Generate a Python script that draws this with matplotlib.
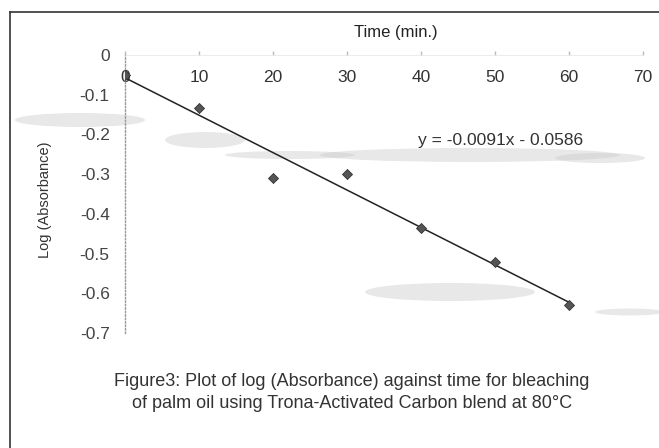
import matplotlib.pyplot as plt
import numpy as np
from matplotlib.lines import Line2D
from matplotlib.patches import Ellipse

plt.rcParams['font.family'] = ['Liberation Sans', 'DejaVu Sans']

# data
time_min = [0, 10, 20, 30, 40, 50, 60]
log_abs = [-0.05, -0.134, -0.31, -0.30, -0.436, -0.52, -0.63]
x_ticks = [0, 10, 20, 30, 40, 50, 60, 70]
y_ticks = [0, -0.1, -0.2, -0.3, -0.4, -0.5, -0.6, -0.7]
equation = "y = -0.0091x - 0.0586"

fig = plt.figure(figsize=(6.59, 4.48), dpi=100)

# faint scanner smudges (page background, not data)
smudges = [  # (cx, cy, w, h) in pixels
    (80, 120, 130, 14), (205, 140, 80, 16), (290, 155, 130, 8),
    (470, 155, 300, 14), (600, 158, 90, 10), (450, 292, 170, 18),
    (630, 312, 70, 7),
]
for cx, cy, w, h in smudges:
    fig.add_artist(Ellipse((cx / 659, 1 - cy / 448), w / 659, h / 448,
                           transform=fig.transFigure, color="#cccccc",
                           alpha=0.45, lw=0, zorder=0))

ax = fig.add_axes([0.1897, 0.2567, 0.786, 0.6205])
ax.patch.set_alpha(0)

# linear trendline through the points
coef = np.polyfit(time_min, log_abs, 1)
fit_x = np.array([time_min[0], time_min[-1]])
ax.plot(fit_x, np.polyval(coef, fit_x), color="#222222", linewidth=1.1, zorder=2)
ax.scatter(time_min, log_abs, marker="D", s=26, color="#555555",
           edgecolor="#333333", linewidth=0.6, zorder=3)

ax.set_xlim(0, 70)
ax.set_ylim(-0.7, 0)
ax.set_xticks(x_ticks)
ax.set_yticks(y_ticks)
ax.set_yticklabels(["0" if v == 0 else f"{v:.1f}" for v in y_ticks])

# excel style: category axis crosses at y = 0 (top of plot)
for side in ("top", "right"):
    ax.spines[side].set_visible(False)
ax.spines["bottom"].set_position(("data", 0))
ax.spines["bottom"].set_color("#e4e4e4")
ax.spines["bottom"].set_linewidth(0.5)
ax.spines["left"].set_color("#999999")
ax.spines["left"].set_linestyle((0, (1, 1.5)))
ax.spines["left"].set_linewidth(1.0)
ax.tick_params(axis="x", length=3, width=1, color="#bbbbbb", pad=11,
               labelsize=12.5, labelcolor="#333333", direction="in")
ax.tick_params(axis="y", length=0, pad=11, labelsize=12.5, labelcolor="#444444")

fig.text(396 / 659, 1 - 32 / 448, "Time (min.)", ha="center", va="center",
         fontsize=12, color="#222222")
fig.text(45 / 659, 1 - 200 / 448, "Log (Absorbance)", rotation=90,
         ha="center", va="center", fontsize=10.5, color="#333333")
ax.text(50.7, -0.215, equation, ha="center", va="center",
        fontsize=12.5, color="#333333")

fig.text(352 / 659, 1 - 382 / 448,
         "Figure3: Plot of log (Absorbance) against time for bleaching",
         ha="center", va="center", fontsize=13, color="#333333")
fig.text(352 / 659, 1 - 403 / 448,
         "of palm oil using Trona-Activated Carbon blend at 80\u00b0C",
         ha="center", va="center", fontsize=13, color="#333333")

# scanned page frame
fig.add_artist(Line2D([10 / 659, 1.0], [1 - 12 / 448, 1 - 12 / 448],
                      transform=fig.transFigure, color="#333333", linewidth=1.2))
fig.add_artist(Line2D([10 / 659, 10 / 659], [0.0, 1 - 12 / 448],
                      transform=fig.transFigure, color="#333333", linewidth=1.2))

fig.savefig("out.png", dpi=100)
